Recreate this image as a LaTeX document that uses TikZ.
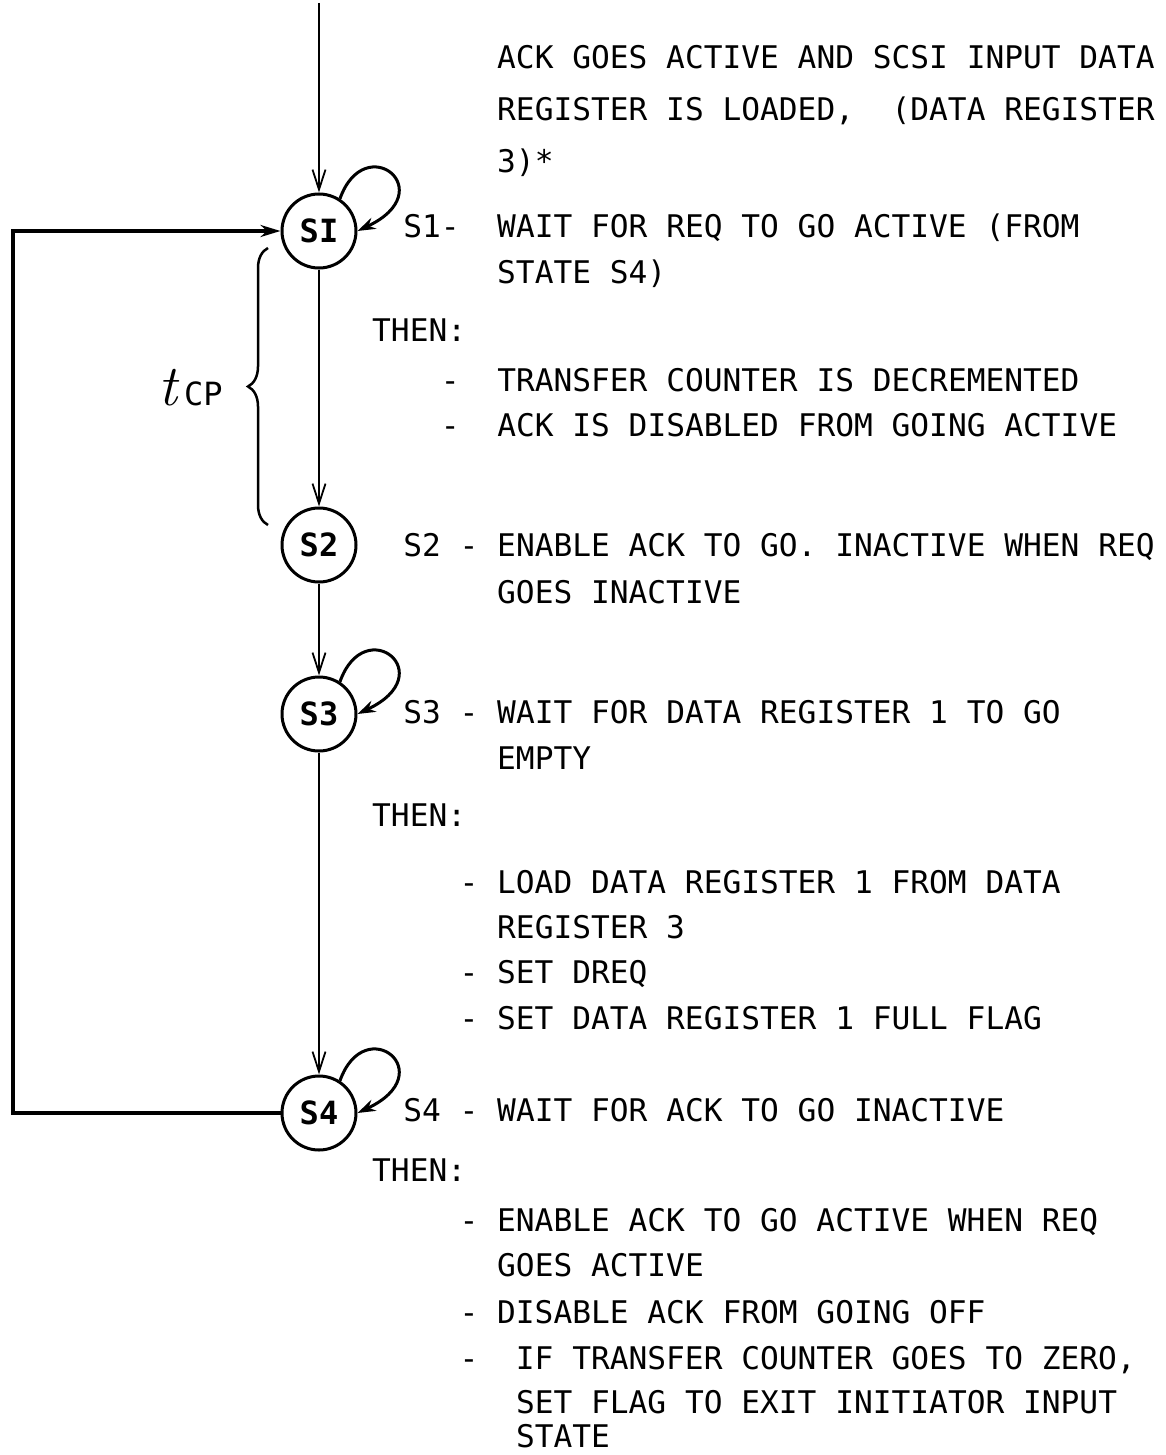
\documentclass[tikz,border=0pt]{standalone}
\usepackage{fontspec}
\setmainfont{DejaVu Sans Mono}
\newfontfamily\tfont{Latin Modern Roman}
\usetikzlibrary{arrows.meta, decorations.pathreplacing, positioning}

\begin{document}
\begin{tikzpicture}[x=1pt, y=-1pt, on grid]

\tikzstyle{state}		=[circle, draw, line width=3pt, minimum size=74pt, inner sep=0pt, font=\fontsize{32}{32}\selectfont\bfseries]
\tikzstyle{txt}		=[anchor=base west, inner sep=0pt, font=\fontsize{31.2}{31.2}\selectfont]
\tikzstyle{flow}		=[line width=2pt, -{Straight Barb[length=20pt,width=13pt,line width=1.8pt]}]
\tikzstyle{selfloop}	=[line width=3pt, -{Stealth[length=18pt,width=12pt]}]
\tikzstyle{feedback}	=[line width=3.5pt, -{Stealth[length=20pt,width=12pt]}]
\tikzstyle{tbrace}	=[line width=2.5pt, decorate, decoration={brace, amplitude=20pt}]

\useasboundingbox (0,0) rectangle (1165,1455);

% states
\node[state] 				(s1) at (319,231)	{SI};
\node[state, below=314pt of s1] 	(s2) 		{S2};
\node[state, below=169pt of s2] 	(s3) 		{S3};
\node[state, below=399pt of s3] 	(s4) 		{S4};

\coordinate (entry) at (319,3);
\coordinate (rail)  at (13,0);
\coordinate (tcptop) at (268,248);
\coordinate (tcpbot) at (268,525);

\draw [flow]  (entry) -- (s1.north);
\draw [flow]  (s1.south) -- (s2.north);
\draw [flow]  (s2.south) -- (s3.north);
\draw [flow]  (s3.south) -- (s4.north);

\draw [feedback]  (s4.west) -- (s4.west -| rail) |- (s1.west);

\draw [selfloop]  (s1.57) .. controls +(25,-70) and +(85,-40) .. (s1.east);
\draw [selfloop]  (s3.57) .. controls +(25,-70) and +(85,-40) .. (s3.east);
\draw [selfloop]  (s4.57) .. controls +(25,-70) and +(85,-40) .. (s4.east);

% cycle time
\draw [tbrace]  (tcpbot) -- (tcptop);
\node[anchor=base west, inner sep=0pt] (tcp) at (158,405) {{\tfont\itshape\fontsize{58}{58}\selectfont t}\kern7pt{\fontsize{32}{32}\selectfont CP}};

% descriptions
\node[txt] (ack1)  at (497,69)   {ACK GOES ACTIVE AND SCSI INPUT DATA};
\node[txt] (ack2)  at (497,121)  {REGISTER IS LOADED,\ \ (DATA REGISTER};
\node[txt] (ack3)  at (497,173)  {3)*};

\node[txt] (w1)    at (403.1,238) {S1-\ \ WAIT FOR REQ TO GO ACTIVE (FROM};
\node[txt] (w1b)   at (497,283)  {STATE S4)};
\node[txt] (then1) at (372,341)  {THEN:};
\node[txt] (dec)   at (440.7,391) {-\ \ TRANSFER COUNTER IS DECREMENTED};
\node[txt] (dis)   at (440.7,436) {-\ \ ACK IS DISABLED FROM GOING ACTIVE};

\node[txt] (en2)   at (403.1,556) {S2 - ENABLE ACK TO GO. INACTIVE WHEN REQ};
\node[txt] (en2b)  at (497,603)  {GOES INACTIVE};

\node[txt] (w3)    at (403.1,723) {S3 - WAIT FOR DATA REGISTER 1 TO GO};
\node[txt] (w3b)   at (497,769)  {EMPTY};
\node[txt] (then3) at (372,826)  {THEN:};
\node[txt] (ld)    at (459.4,893) {- LOAD DATA REGISTER 1 FROM DATA};
\node[txt] (ldb)   at (497,938)  {REGISTER 3};
\node[txt] (dreq)  at (459.4,983) {- SET DREQ};
\node[txt] (full)  at (459.4,1029) {- SET DATA REGISTER 1 FULL FLAG};

\node[txt] (w4)    at (403.1,1121) {S4 - WAIT FOR ACK TO GO INACTIVE};
\node[txt] (then4) at (372,1181) {THEN:};
\node[txt] (en4)   at (459.4,1231) {- ENABLE ACK TO GO ACTIVE WHEN REQ};
\node[txt] (en4b)  at (497,1276) {GOES ACTIVE};
\node[txt] (off)   at (459.4,1323) {- DISABLE ACK FROM GOING OFF};
\node[txt] (zero)  at (459.4,1369) {-\ \ IF TRANSFER COUNTER GOES TO ZERO,};
\node[txt] (zerob) at (515.8,1413) {SET FLAG TO EXIT INITIATOR INPUT};
\node[txt] (zeroc) at (515.8,1447) {STATE};

\end{tikzpicture}
\end{document}
